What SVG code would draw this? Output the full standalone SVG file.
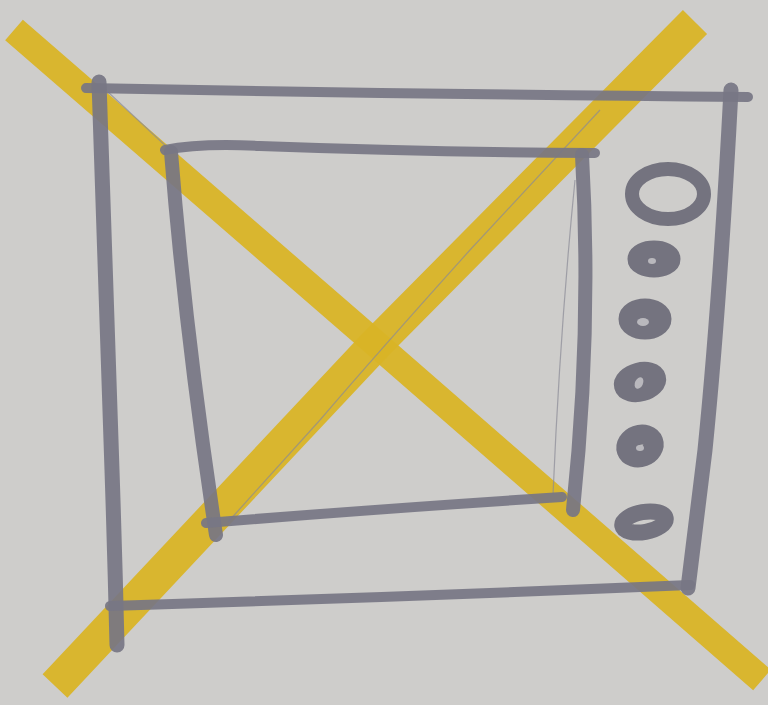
<svg xmlns="http://www.w3.org/2000/svg" width="768" height="705" viewBox="0 0 768 705">
<defs>
<style>
.y{fill:none;stroke:#d9b426;stroke-linecap:butt;opacity:0.95}
.g{fill:none;stroke:#777684;stroke-linecap:round;stroke-linejoin:round;opacity:0.92}
.t{fill:none;stroke:#8a8a96;stroke-width:1.2;opacity:0.7}
.k{fill:none;stroke:#6f6e7a;opacity:0.95}
.h{fill:#b9b8bd}
</style>
</defs>
<rect width="768" height="705" fill="#cecdcb"/>
<g id="cross">
<path class="y" stroke-width="27" d="M14 30 L375 343 L762 680"/>
<path class="y" stroke-width="34" d="M695 22 L375 345 L55 686"/>
</g>
<g id="pencil">
<path class="t" d="M600 110 L470 250 Q380 350 320 420 L228 522"/>
<path class="t" d="M575 180 Q560 330 553 495"/>
<path class="t" d="M108 92 L170 150"/>
</g>
<g id="screen-outer">
<path class="g" stroke-width="10" d="M86 88 Q400 94 748 97"/>
<path class="g" stroke-width="15" d="M99 82 Q106 300 112 470 Q115 560 117 645"/>
<path class="g" stroke-width="15" d="M731 90 Q720 300 705 450 Q695 530 688 588"/>
<path class="g" stroke-width="10" d="M110 606 Q400 597 690 585"/>
</g>
<g id="screen-inner">
<path class="g" stroke-width="10" d="M165 150 Q200 143 260 146 Q420 152 595 153"/>
<path class="g" stroke-width="14" d="M171 152 Q185 330 216 535"/>
<path class="g" stroke-width="14" d="M582 155 Q592 330 573 510"/>
<path class="g" stroke-width="10" d="M206 523 Q390 508 562 497"/>
</g>
<g id="knobs">
<ellipse class="k" cx="668" cy="194" rx="36" ry="25" stroke-width="14"/>
<ellipse class="k" cx="654" cy="259" rx="16" ry="8" stroke-width="21"/>
<ellipse class="h" cx="652" cy="261" rx="4" ry="3"/>
<ellipse class="k" cx="645" cy="319" rx="16" ry="10" stroke-width="21"/>
<ellipse class="h" cx="643" cy="322" rx="6" ry="4"/>
<ellipse class="k" cx="640" cy="382" rx="16" ry="9" stroke-width="21" transform="rotate(-15 640 382)"/>
<ellipse class="h" cx="639" cy="383" rx="4" ry="6" transform="rotate(25 639 383)"/>
<ellipse class="k" cx="640" cy="446" rx="14" ry="11" stroke-width="20" transform="rotate(-20 640 446)"/>
<ellipse class="h" cx="640" cy="448" rx="4" ry="3"/>
<ellipse class="k" cx="644" cy="522" rx="22" ry="10" stroke-width="16" transform="rotate(-10 644 522)"/>
</g>
</svg>
